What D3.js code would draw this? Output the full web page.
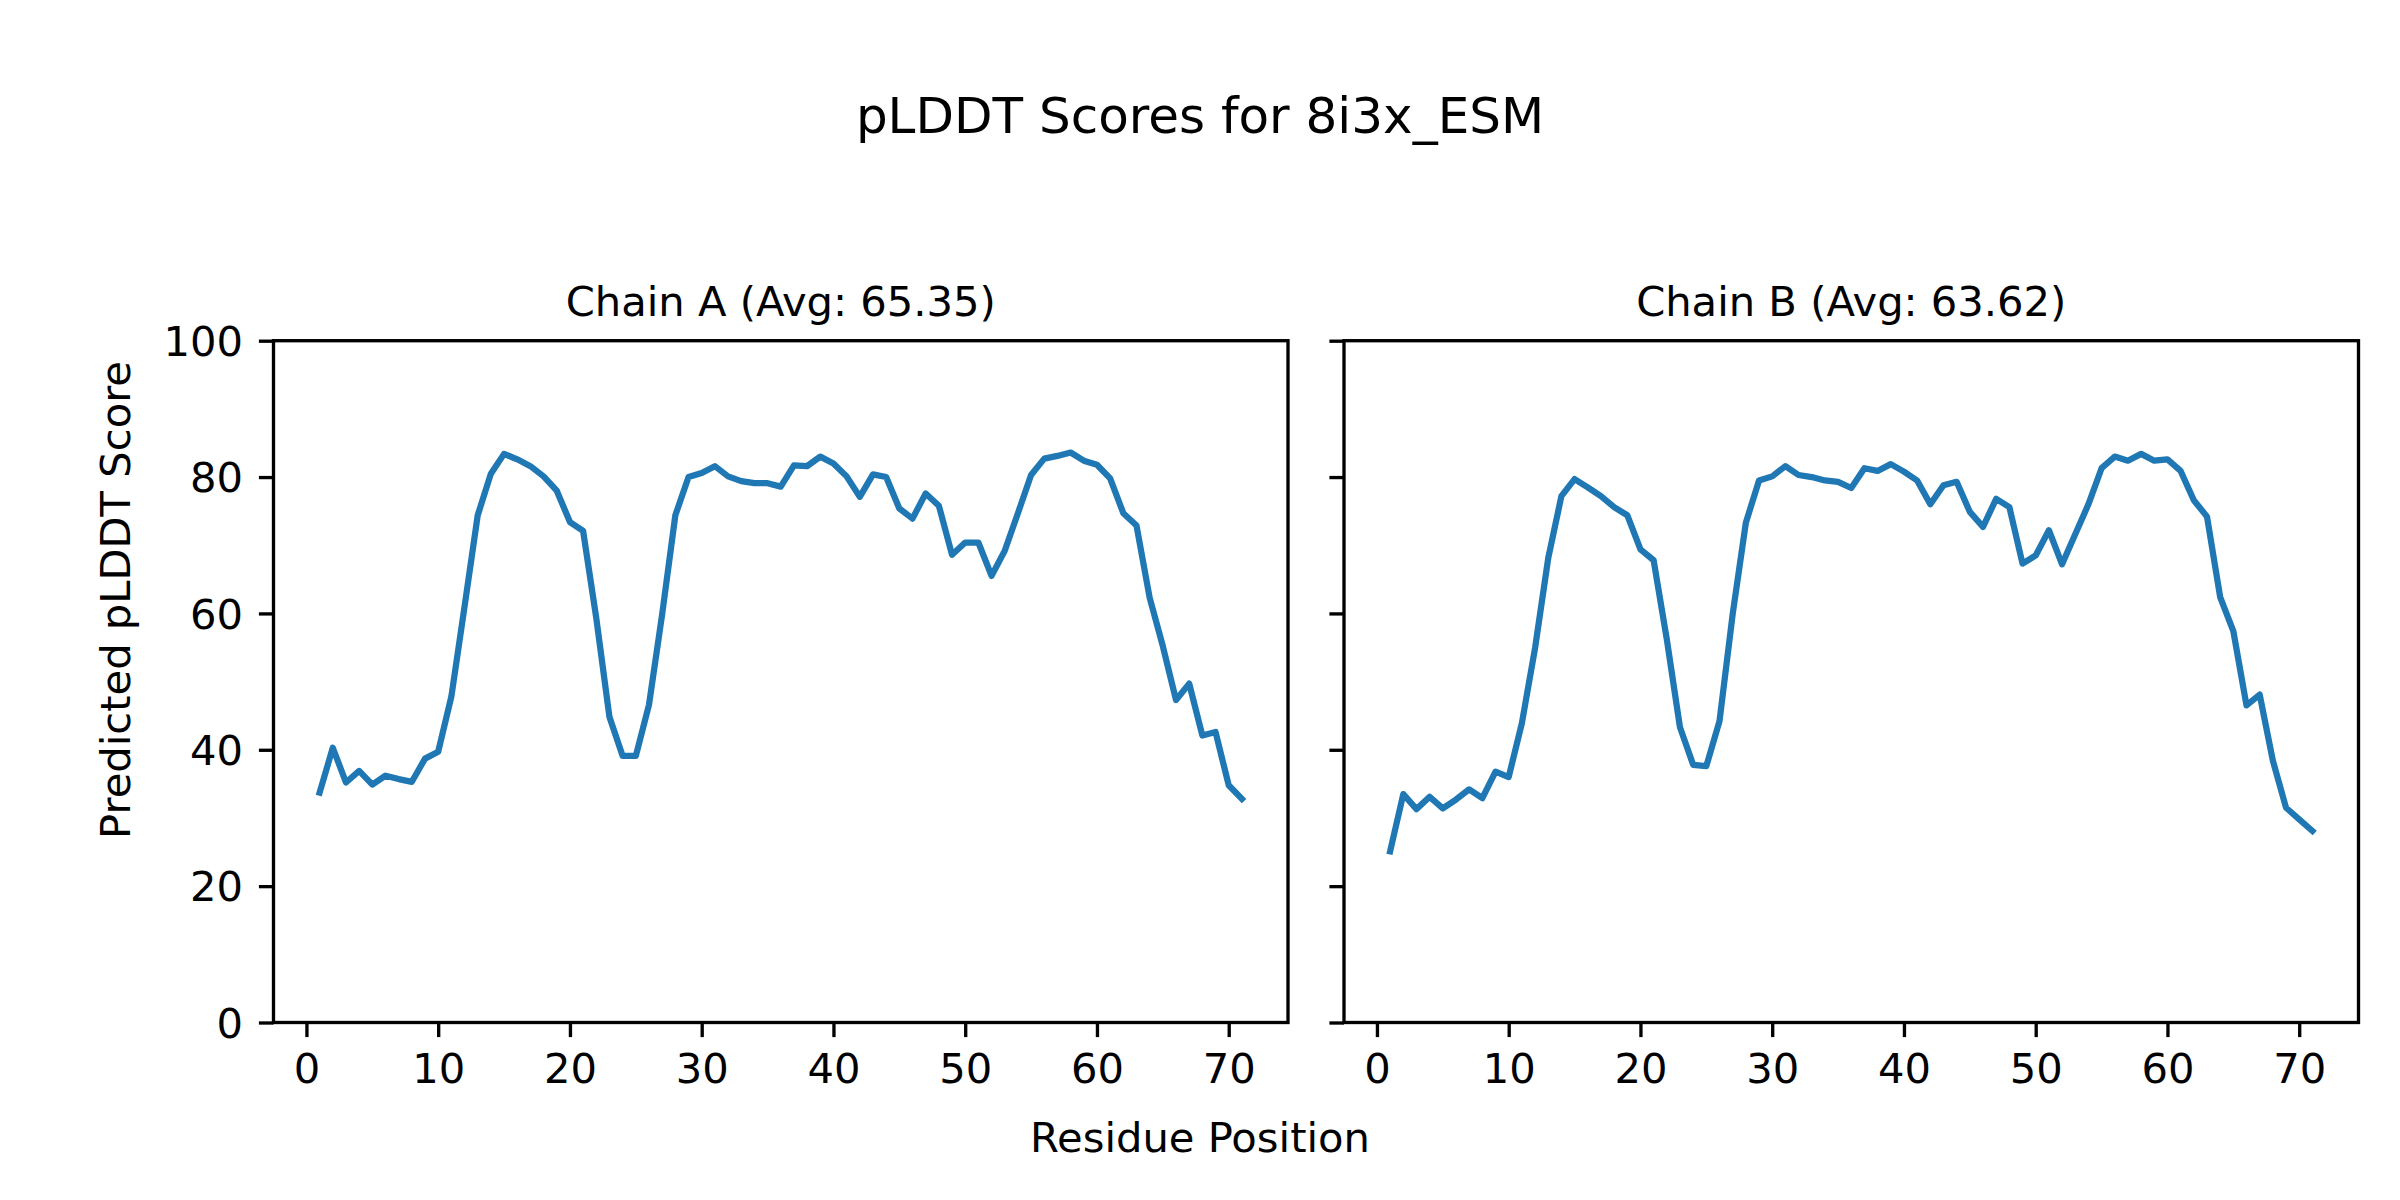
<!DOCTYPE html>
<html>
<head>
<meta charset="utf-8">
<script src="https://cdn.jsdelivr.net/npm/d3@7"></script>
<style>
  html, body { margin: 0; padding: 0; background: #ffffff; }
  svg { display: block; }
  text { font-family: "DejaVu Sans", sans-serif; fill: #000; }
</style>
</head>
<body>
<svg id="chart" width="2400" height="1200"></svg>
<script>
// ---- Data ----
const chainNames = ["Chain A", "Chain B"];
const chainAvgs = [65.35, 63.62];
const chainA = [33.7, 40.3, 35.2, 36.9, 34.9, 36.2, 35.7, 35.3, 38.7, 39.7,
  47.8, 61.0, 74.4, 80.5, 83.4, 82.6, 81.6, 80.1, 78.0, 73.4,
  72.1, 59.3, 44.8, 39.1, 39.1, 46.6, 59.9, 74.4, 80.0, 80.6,
  81.6, 80.1, 79.4, 79.1, 79.1, 78.6, 81.7, 81.6, 83.0, 82.0,
  80.1, 77.1, 80.4, 80.0, 75.4, 73.9, 77.6, 75.8, 68.6, 70.4,
  70.4, 65.5, 69.2, 74.7, 80.3, 82.7, 83.1, 83.6, 82.4, 81.8,
  79.8, 74.7, 72.9, 62.3, 55.2, 47.3, 49.7, 42.1, 42.6, 34.8, 32.8];
const chainB = [25.1, 33.5, 31.3, 33.1, 31.4, 32.7, 34.2, 32.9, 36.8, 36.0,
  43.9, 54.9, 68.1, 77.2, 79.7, 78.5, 77.2, 75.6, 74.4, 69.4,
  67.8, 56.2, 43.3, 37.8, 37.6, 44.2, 59.9, 73.3, 79.5, 80.1,
  81.6, 80.3, 80.0, 79.5, 79.3, 78.4, 81.3, 80.9, 81.9, 80.8,
  79.5, 76.0, 78.8, 79.3, 74.9, 72.7, 76.8, 75.6, 67.3, 68.5,
  72.2, 67.2, 71.6, 76.0, 81.3, 83.0, 82.4, 83.4, 82.4, 82.6,
  80.9, 76.6, 74.2, 62.4, 57.4, 46.5, 48.1, 38.4, 31.5, 29.8, 28.1];
const xTicks = [0, 10, 20, 30, 40, 50, 60, 70];
const yTicks = [0, 20, 40, 60, 80, 100];
const figTitle = "pLDDT Scores for 8i3x_ESM";
const xLabel = "Residue Position";
const yLabel = "Predicted pLDDT Score";

// ---- Layout ----
const FS = 41.67;       // 10pt at 300 dpi
const LW = 3.33;        // 0.8pt
const TICK = 14.6;      // 3.5pt
const panels = [
  { left: 273.5, right: 1288, data: chainA, showY: true },
  { left: 1344, right: 2358.5, data: chainB, showY: false }
];
const axTop = 340.7, axBottom = 1022.5;

const svg = d3.select("#chart");
svg.append("rect").attr("width", 2400).attr("height", 1200).attr("fill", "#fff");

const y = d3.scaleLinear().domain([0, 100]).range([axBottom, axTop]);

panels.forEach((p, i) => {
  const x = d3.scaleLinear().domain([-2.5, 74.5]).range([p.left, p.right]);
  const g = svg.append("g");
  const pts = p.data.map((v, k) => [k + 1, v]);

  g.append("path")
    .datum(pts)
    .attr("fill", "none")
    .attr("stroke", "#1f77b4")
    .attr("stroke-width", 6.25)
    .attr("stroke-linejoin", "round")
    .attr("stroke-linecap", "square")
    .attr("d", d3.line().x(d => x(d[0])).y(d => y(d[1])));

  // x axis
  const xa = g.append("g")
    .attr("transform", `translate(0,${axBottom})`)
    .call(d3.axisBottom(x).tickValues(xTicks).tickSize(TICK).tickPadding(16));
  xa.select(".domain").remove();
  xa.selectAll("line").attr("stroke", "#000").attr("stroke-width", LW);
  xa.selectAll("text").style("font-size", FS + "px").style("font-family", "DejaVu Sans").attr("fill", "#000");

  // y axis
  const ya = g.append("g")
    .attr("transform", `translate(${p.left},0)`)
    .call(d3.axisLeft(y).tickValues(yTicks).tickSize(TICK).tickPadding(16)
      .tickFormat(p.showY ? d3.format("d") : () => ""));
  ya.select(".domain").remove();
  ya.selectAll("line").attr("stroke", "#000").attr("stroke-width", LW);
  ya.selectAll("text").style("font-size", FS + "px").style("font-family", "DejaVu Sans").attr("fill", "#000")
    .attr("dy", "0.35em");

  // spines
  g.append("rect")
    .attr("x", p.left).attr("y", axTop)
    .attr("width", p.right - p.left).attr("height", axBottom - axTop)
    .attr("fill", "none").attr("stroke", "#000").attr("stroke-width", LW);

  // subplot title
  g.append("text")
    .attr("x", (p.left + p.right) / 2)
    .attr("y", 316)
    .attr("text-anchor", "middle")
    .style("font-size", FS + "px")
    .text(`${chainNames[i]} (Avg: ${chainAvgs[i].toFixed(2)})`);
});

// figure title
svg.append("text")
  .attr("x", 1200).attr("y", 133)
  .attr("text-anchor", "middle")
  .style("font-size", "50px")
  .text(figTitle);

// x label
svg.append("text")
  .attr("x", 1200).attr("y", 1152)
  .attr("text-anchor", "middle")
  .style("font-size", FS + "px")
  .text(xLabel);

// y label
svg.append("text")
  .attr("transform", "translate(130,600) rotate(-90)")
  .attr("text-anchor", "middle")
  .style("font-size", FS + "px")
  .text(yLabel);
</script>
</body>
</html>
